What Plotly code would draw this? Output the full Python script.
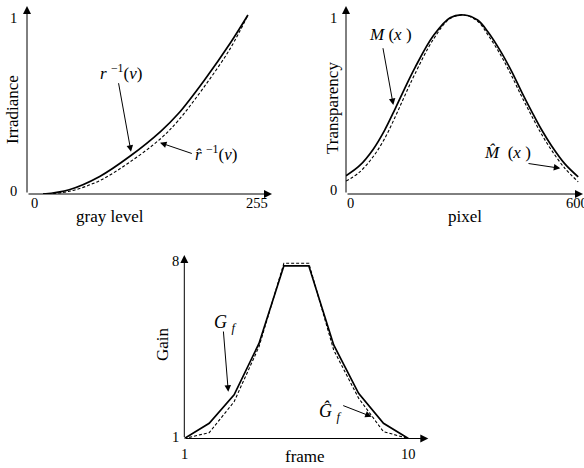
import plotly.graph_objects as go

W, H = 584, 468
FONT = "Liberation Serif, Times New Roman, Times, serif"

# ---------------- data ----------------
gray_level = [10, 40, 75, 110, 145, 165, 195, 225, 245]
irr_true = [0.0, 0.024, 0.098, 0.212, 0.35, 0.448, 0.636, 0.845, 1.0]
irr_est = [0.0, 0.015, 0.075, 0.18, 0.31, 0.41, 0.60, 0.815, 1.0]

pixel = [0, 35, 70, 100, 127, 150, 178, 226, 269, 305, 340, 367, 400, 428, 455, 480, 505, 531, 565, 600]
trans_true = [0.102, 0.158, 0.249, 0.357, 0.476, 0.582, 0.705, 0.885, 0.985, 1.0, 0.972, 0.905, 0.795, 0.685, 0.565, 0.46, 0.36, 0.27, 0.17, 0.096]
trans_est = [0.072, 0.122, 0.208, 0.31, 0.43, 0.54, 0.67, 0.865, 0.98, 1.0, 0.965, 0.888, 0.775, 0.66, 0.54, 0.435, 0.335, 0.245, 0.145, 0.068]

frame = [1, 2, 3, 4, 5, 6, 7, 8, 9, 10]
gain_true = [1, 1.60, 2.72, 4.75, 7.81, 7.81, 4.69, 2.78, 1.60, 1]
gain_est = [1, 1.23, 2.45, 4.62, 7.91, 7.91, 4.49, 2.59, 1.27, 1]

ticks1_x = [0, 255]
ticks1_y = [0, 1]
ticks2_x = [0, 600]
ticks2_y = [0, 1]
ticks3_x = [1, 10]
ticks3_y = [1, 8]

# ---------------- layout helpers (pixel -> paper) ----------------
def px(x):
    return x / W

def py(y):
    return 1 - y / H

fig = go.Figure()

solid = dict(color="black", width=1.7)
dashed = dict(color="black", width=1.1, dash="3px,2px")

fig.add_trace(go.Scatter(x=gray_level, y=irr_est, mode="lines", line=dict(**dashed, shape="spline"), xaxis="x", yaxis="y"))
fig.add_trace(go.Scatter(x=gray_level, y=irr_true, mode="lines", line=dict(**solid, shape="spline"), xaxis="x", yaxis="y"))
fig.add_trace(go.Scatter(x=pixel, y=trans_est, mode="lines", line=dict(**dashed, shape="spline"), xaxis="x2", yaxis="y2"))
fig.add_trace(go.Scatter(x=pixel, y=trans_true, mode="lines", line=dict(**solid, shape="spline"), xaxis="x2", yaxis="y2"))
fig.add_trace(go.Scatter(x=frame, y=gain_est, mode="lines", line=dashed, xaxis="x3", yaxis="y3"))
fig.add_trace(go.Scatter(x=frame, y=gain_true, mode="lines", line=solid, xaxis="x3", yaxis="y3"))

common = dict(showgrid=False, zeroline=False, showline=False, ticks="", showticklabels=False, fixedrange=True)

fig.update_layout(
    width=W, height=H,
    margin=dict(l=0, r=0, t=0, b=0),
    paper_bgcolor="white", plot_bgcolor="white",
    showlegend=False,
    font=dict(family=FONT, color="black"),
    xaxis=dict(domain=[px(27), px(272)], range=[-8.4, 272.6], anchor="y", **common),
    yaxis=dict(domain=[py(194), py(8)], range=[0, 1.039], anchor="x", **common),
    xaxis2=dict(domain=[px(346), 1.0], range=[0, 615], anchor="y2", **common),
    yaxis2=dict(domain=[py(194), py(8)], range=[0, 1.039], anchor="x2", **common),
    xaxis3=dict(domain=[px(184.3), px(428.3)], range=[1, 10.8], anchor="y3", **common),
    yaxis3=dict(domain=[py(438.5), py(255)], range=[1, 8.236], anchor="x3", **common),
)

anns = []

def arrow(tip, tail, size=1.6, head=2, width=1.0):
    anns.append(dict(x=px(tip[0]), y=py(tip[1]), xref="paper", yref="paper",
                     ax=tail[0] - tip[0], ay=tail[1] - tip[1], axref="pixel", ayref="pixel",
                     text="", showarrow=True, arrowhead=head, arrowsize=size,
                     arrowwidth=width, arrowcolor="black", standoff=0, startstandoff=0))

def label(x, y, text, size=17, angle=0, yanchor="middle", family=FONT):
    anns.append(dict(x=px(x), y=py(y), xref="paper", yref="paper", text=text,
                     showarrow=False, textangle=angle, xanchor="center", yanchor=yanchor,
                     font=dict(family=family, size=size, color="black")))

TICKSIZE = 14.5

def xticks(axis, vals, yshift, xshifts=None):
    for i, v in enumerate(vals):
        anns.append(dict(x=v, xref=axis, y=0, yref=axis.replace("x", "y") + " domain",
                         text=str(v), showarrow=False, xanchor="center", yanchor="middle",
                         yshift=yshift, xshift=(xshifts[i] if xshifts else 0),
                         font=dict(family=FONT, size=TICKSIZE, color="black")))

def yticks(axis, vals, xshift, yshifts):
    for i, v in enumerate(vals):
        anns.append(dict(x=0, xref=axis.replace("y", "x") + " domain", y=v, yref=axis,
                         text=str(v), showarrow=False, xanchor="center", yanchor="middle",
                         xshift=xshift, yshift=yshifts[i],
                         font=dict(family=FONT, size=TICKSIZE, color="black")))

xticks("x", ticks1_x, -9)
yticks("y", ticks1_y, -14, [3, -3])
xticks("x2", ticks2_x, -9, [4, -1])
yticks("y2", ticks2_y, -12.5, [4, -3])
xticks("x3", ticks3_x, -15.5)
yticks("y3", ticks3_y, -9, [2, 0])

# axis arrows
arrow((272, 194), (27, 194))
arrow((27, 6), (27, 194))
arrow((585, 194), (346, 194))
arrow((346, 6), (346, 194))
arrow((428.3, 438.5), (184.3, 438.5))
arrow((184.3, 255), (184.3, 438.5))

# axis titles
label(12, 110, "Irradiance", angle=-90)
label(110, 216, "gray level")
label(332, 108, "Transparency", angle=-90)
label(465, 216, "pixel")
label(162, 344, "Gain", angle=-90)
label(305, 468, "frame", yanchor="bottom")

# curve labels and callouts
label(121, 72, "<i>r</i> <sup>−1</sup>(<i>v</i>)")
arrow((131, 151.7), (118.3, 81.7), size=1.3)
label(216, 153, "<i>r̂</i> <sup>−1</sup>(<i>v</i>)")
arrow((160, 142.7), (193.3, 154), size=1.3)

label(390, 35, "<i>M</i> (<i>x</i> )")
arrow((393.3, 105), (382.7, 46.7), size=1.3)
label(507, 153, "<i>M̂</i>  (<i>x</i> )")
arrow((560.3, 168.3), (527, 163.3), size=1.3)

label(225, 323, "<i>G</i> <sub><i>f</i></sub>", size=18)
arrow((228.3, 391.7), (223.3, 330), size=1.3)
label(330, 412, "<i>Ĝ</i> <sub><i>f</i></sub>", size=18)
arrow((371.7, 416.7), (341.7, 405), size=1.3)

fig.update_layout(annotations=anns)

fig.write_html(
    "out.html",
    config={"displayModeBar": False},
    post_script="document.body.style.margin='0';document.body.style.padding='0';",
)
